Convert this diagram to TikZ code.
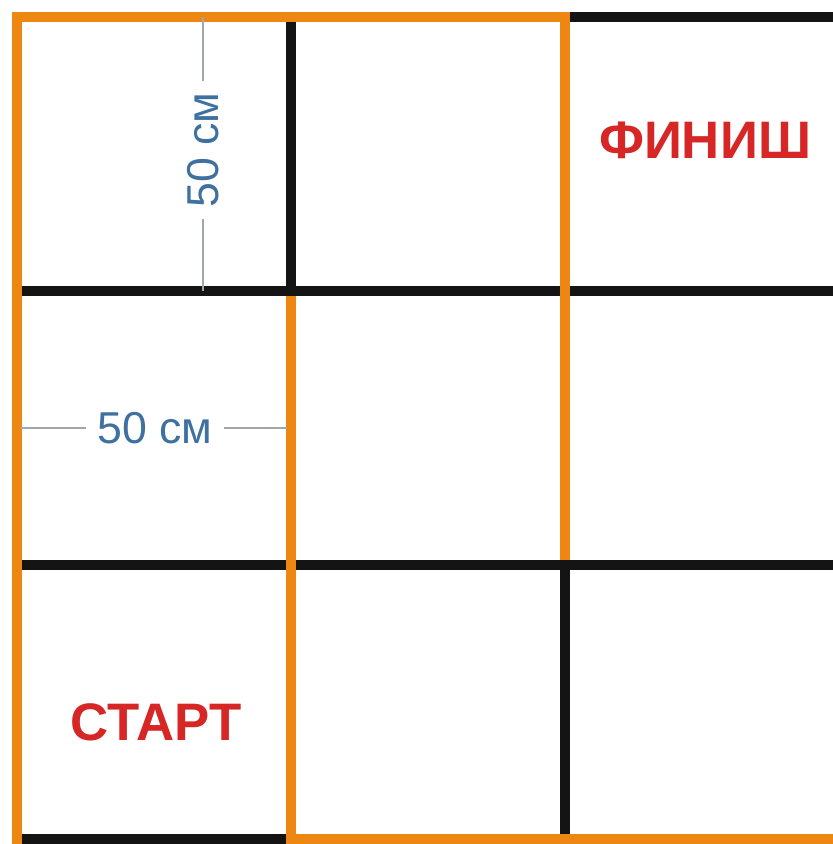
\documentclass[tikz,border=0pt]{standalone}
\usepackage{fontspec}
\setmainfont{Liberation Sans}
\usetikzlibrary{positioning}

\definecolor{routeorange}{RGB}{238,134,18}
\definecolor{labelred}{RGB}{214,38,38}
\definecolor{dimblue}{RGB}{62,112,160}
\definecolor{dimgray}{RGB}{160,166,170}

\begin{document}
\begin{tikzpicture}[
  x=0.01cm,y=-0.01cm,
  line cap=butt,
  gridline/.style={line width=0.105cm,black!92},
  route/.style={line width=0.1cm,routeorange},
  dim/.style={line width=0.4pt,dimgray},
  dimtext/.style={text=dimblue,font=\fontsize{12.7}{14}\selectfont,inner sep=3pt},
  cellname/.style={text=labelred,font=\fontsize{15}{17}\selectfont\bfseries,inner sep=0pt}
]
  \useasboundingbox (0,0) rectangle (833,844);

  % Black grid lines.
  \foreach \y in {291,565}
    \draw[gridline] (17,\y) -- (845,\y);
  \draw[gridline] (565,17) -- (845,17);
  \draw[gridline] (17,839) -- (291,839);
  \draw[gridline] (291,17) -- (291,291);
  \draw[gridline] (565,565) -- (565,839);

  % Orange routes along the grid.
  \draw[route] (17,846) -- (17,17) -- (565,17) -- (565,560);
  \draw[route] (291,296) -- (291,839) -- (838,839) -- (838,17);

  % Cell labels.
  \node[cellname] (finishlabel) at (705,140) {ФИНИШ};
  \node[cellname] (startlabel) at (156,722) {СТАРТ};

  % Dimension marks.
  \node[dimtext,rotate=90] (dimv) at (203,150) {50 см};
  \coordinate (dimvtop) at (203,17);
  \coordinate (dimvbot) at (203,291);
  \draw[dim] (dimvtop) -- (dimv);
  \draw[dim] (dimv) -- (dimvbot);

  \node[dimtext] (dimh) at (155,428) {50 см};
  \coordinate (dimhleft) at (20,428);
  \coordinate (dimhright) at (287,428);
  \draw[dim] (dimhleft) -- (dimh);
  \draw[dim] (dimh) -- (dimhright);
\end{tikzpicture}
\end{document}
